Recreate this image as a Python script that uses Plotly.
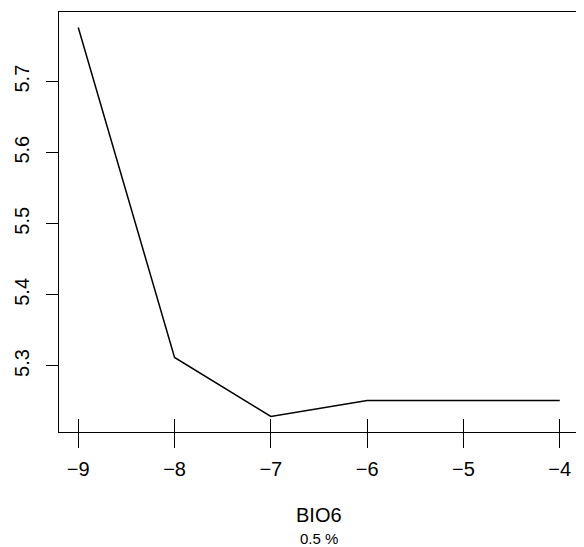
import plotly.graph_objects as go

x_vals = [-9, -8, -7, -6, -5, -4]
y_vals = [5.776, 5.312, 5.229, 5.2515, 5.2515, 5.2515]
x_ticks = [-9, -8, -7, -6, -5, -4]
y_ticks = [5.3, 5.4, 5.5, 5.6, 5.7]
x_title = "BIO6"
subtitle = "0.5 %"

ymin, ymax = min(y_vals), max(y_vals)
pad = 0.04 * (ymax - ymin)
xpad = 0.04 * (max(x_vals) - min(x_vals))

font = "Liberation Sans, Arial, sans-serif"

fig = go.Figure()
fig.add_trace(go.Scatter(x=x_vals, y=y_vals, mode="lines",
                         line=dict(color="black", width=1.5), showlegend=False))
# invisible trace on overlaying axis for inside tick marks
fig.add_trace(go.Scatter(x=x_vals, y=y_vals, mode="lines", xaxis="x2",
                         line=dict(color="rgba(0,0,0,0)", width=0), showlegend=False,
                         hoverinfo="skip"))

fig.update_layout(
    width=576, height=539,
    margin=dict(l=51, r=5, t=4, b=115),
    paper_bgcolor="white", plot_bgcolor="white",
    font=dict(family=font, color="black", size=20),
    xaxis=dict(range=[min(x_vals) - xpad, max(x_vals) + xpad],
               tickvals=x_ticks, ticks="outside", ticklen=15, tickwidth=1.3,
               tickcolor="black", showgrid=False, zeroline=False,
               showline=True, linecolor="black", linewidth=1.3, mirror=True,
               ticklabelstandoff=4,
               tickfont=dict(size=20)),
    xaxis2=dict(overlaying="x", matches="x", anchor="y", side="bottom",
                tickvals=x_ticks, ticks="inside", ticklen=13, tickwidth=1.3,
                tickcolor="black", showticklabels=False, showgrid=False,
                zeroline=False, showline=False),
    yaxis=dict(range=[ymin - pad, ymax + pad], tickvals=y_ticks,
               ticktext=[f"{v:.1f}" for v in y_ticks],
               ticks="outside", ticklen=12, tickwidth=1.3, tickcolor="black",
               tickangle=-90, showgrid=False, zeroline=False,
               showline=True, linecolor="black", linewidth=1.3, mirror=True,
               ticklabelstandoff=9,
               tickfont=dict(size=20)),
    annotations=[
        dict(text=x_title, xref="paper", yref="paper", x=0.5, y=0,
             yanchor="middle", yshift=-83, showarrow=False,
             font=dict(size=20, family=font)),
        dict(text=subtitle, xref="paper", yref="paper", x=0.5, y=0,
             yanchor="middle", yshift=-106, showarrow=False,
             font=dict(size=15, family=font)),
    ],
)

fig.write_html("out.html")
